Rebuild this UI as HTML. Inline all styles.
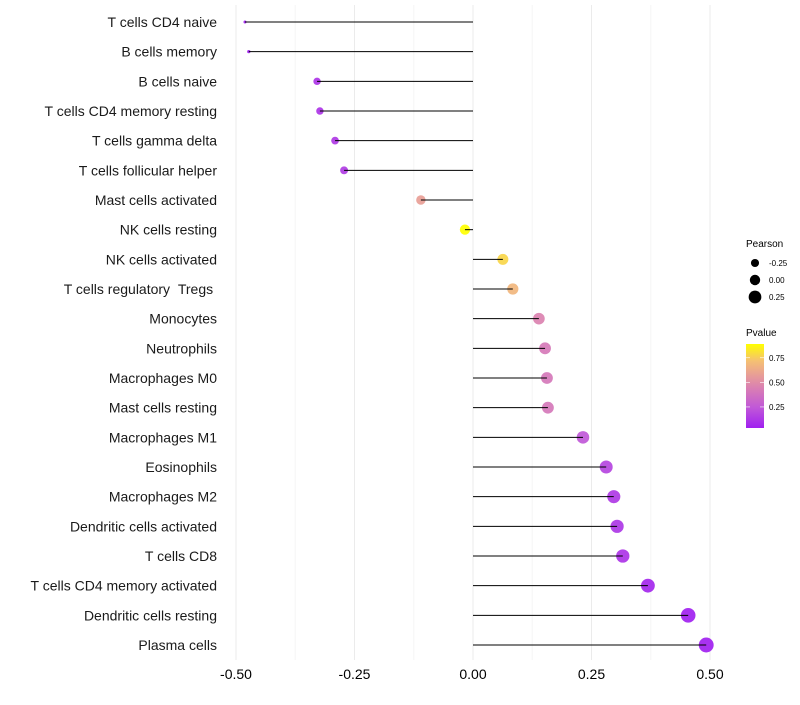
<!DOCTYPE html>
<html><head><meta charset="utf-8"><style>
body{margin:0;background:#fff;font-family:"Liberation Sans",sans-serif}
svg text{font-family:"Liberation Sans",sans-serif}
</style></head><body>
<svg id="chart" width="800" height="700" xmlns="http://www.w3.org/2000/svg"></svg>
<script>
const categories=["T cells CD4 naive","B cells memory","B cells naive","T cells CD4 memory resting","T cells gamma delta","T cells follicular helper","Mast cells activated","NK cells resting","NK cells activated","T cells regulatory\u00a0\u00a0Tregs\u00a0","Monocytes","Neutrophils","Macrophages M0","Mast cells resting","Macrophages M1","Eosinophils","Macrophages M2","Dendritic cells activated","T cells CD8","T cells CD4 memory activated","Dendritic cells resting","Plasma cells"];
const pearson=[-0.481,-0.473,-0.329,-0.323,-0.291,-0.272,-0.110,-0.017,0.063,0.084,0.139,0.152,0.156,0.158,0.232,0.281,0.297,0.304,0.316,0.369,0.454,0.492];
const pvalues=[0.03,0.04,0.12,0.12,0.14,0.15,0.58,0.92,0.78,0.68,0.46,0.42,0.41,0.41,0.25,0.18,0.14,0.13,0.12,0.07,0.05,0.05];
const xTicks=[-0.5,-0.25,0,0.25,0.5];
const xTickLabels=["-0.50","-0.25","0.00","0.25","0.50"];
const sizeLegend=[-0.25,0,0.25];
const sizeLegendLabels=["-0.25","0.00","0.25"];
const pTicks=[0.25,0.5,0.75];
const pTickLabels=["0.25","0.50","0.75"];

const svg=document.getElementById('chart');
const NS="http://www.w3.org/2000/svg";
function mk(tag,attrs,parent){const e=document.createElementNS(NS,tag);for(const k in attrs)e.setAttribute(k,attrs[k]);(parent||svg).appendChild(e);return e;}
const x=v=>473+v*474;
const y=i=>22+i*(623/21);
const r=v=>v>=-0.34?5.2+4.6*v:Math.max(1.3,3.64-(-0.34-v)*15);
const cstops=[[0.046,[160,32,240]],[0.25,[192,88,216]],[0.45,[218,128,178]],[0.58,[232,158,150]],[0.72,[245,192,115]],[0.89,[255,255,0]]];
function col(p){
 if(p<=cstops[0][0])return `rgb(${cstops[0][1].join(',')})`;
 for(let i=1;i<cstops.length;i++){if(p<=cstops[i][0]){const t=(p-cstops[i-1][0])/(cstops[i][0]-cstops[i-1][0]);const a=cstops[i-1][1],b=cstops[i][1];
  return `rgb(${a.map((c,k)=>Math.round(c+(b[k]-c)*t)).join(',')})`;}}
 return 'rgb(255,255,0)';}

const grid=mk('g',{});

for(let v=-0.5;v<=0.5001;v+=0.125){mk('line',{x1:x(v),x2:x(v),y1:5,y2:660,stroke:Math.abs((v*4)%1)<1e-6?'#ebebeb':'#f5f5f5','stroke-width':1},grid);}
xTicks.forEach((v,i)=>{const t=mk('text',{x:x(v),y:679,'text-anchor':'middle','font-size':14,fill:'#000'});t.textContent=xTickLabels[i];
 });
categories.forEach((c,i)=>{
 const t=mk('text',{x:217,y:y(i)+5,'text-anchor':'end','font-size':14,fill:'#1a1a1a'});t.textContent=c;
 
 const p=mk('circle',{cx:x(pearson[i]),cy:y(i),r:r(pearson[i]),fill:col(pvalues[i]),'fill-opacity':0.92});
 
 const l=mk('line',{x1:x(0),x2:x(pearson[i]),y1:y(i),y2:y(i),stroke:'#000','stroke-width':1});
 
});
const lt=mk('text',{x:746,y:247,'font-size':10});lt.textContent='Pearson';

sizeLegend.forEach((v,i)=>{const cy=263+i*17;
 const c=mk('circle',{cx:755,cy:cy,r:r(v),fill:'#000'});
 const t=mk('text',{x:769,y:cy+3,'font-size':8});t.textContent=sizeLegendLabels[i];
 });
const ct=mk('text',{x:746,y:336,'font-size':10});ct.textContent='Pvalue';

const defs=mk('defs',{});const g=mk('linearGradient',{id:'pg',x1:0,y1:1,x2:0,y2:0},defs);
cstops.forEach(s=>mk('stop',{offset:(s[0]-0.046)/(0.89-0.046),'stop-color':`rgb(${s[1].join(',')})`},g));
const bar=mk('rect',{x:746,y:344,width:18,height:84,fill:'url(#pg)'});

const py=p=>427-(p-0.046)*(83/(0.89-0.046));
pTicks.forEach((p,i)=>{
 mk('line',{x1:746,x2:750,y1:py(p),y2:py(p),stroke:'#fff','stroke-width':0.6});
 mk('line',{x1:760,x2:764,y1:py(p),y2:py(p),stroke:'#fff','stroke-width':0.6});
 const t=mk('text',{x:769,y:py(p)+3,'font-size':8});t.textContent=pTickLabels[i];
 });
</script>
</body></html>
